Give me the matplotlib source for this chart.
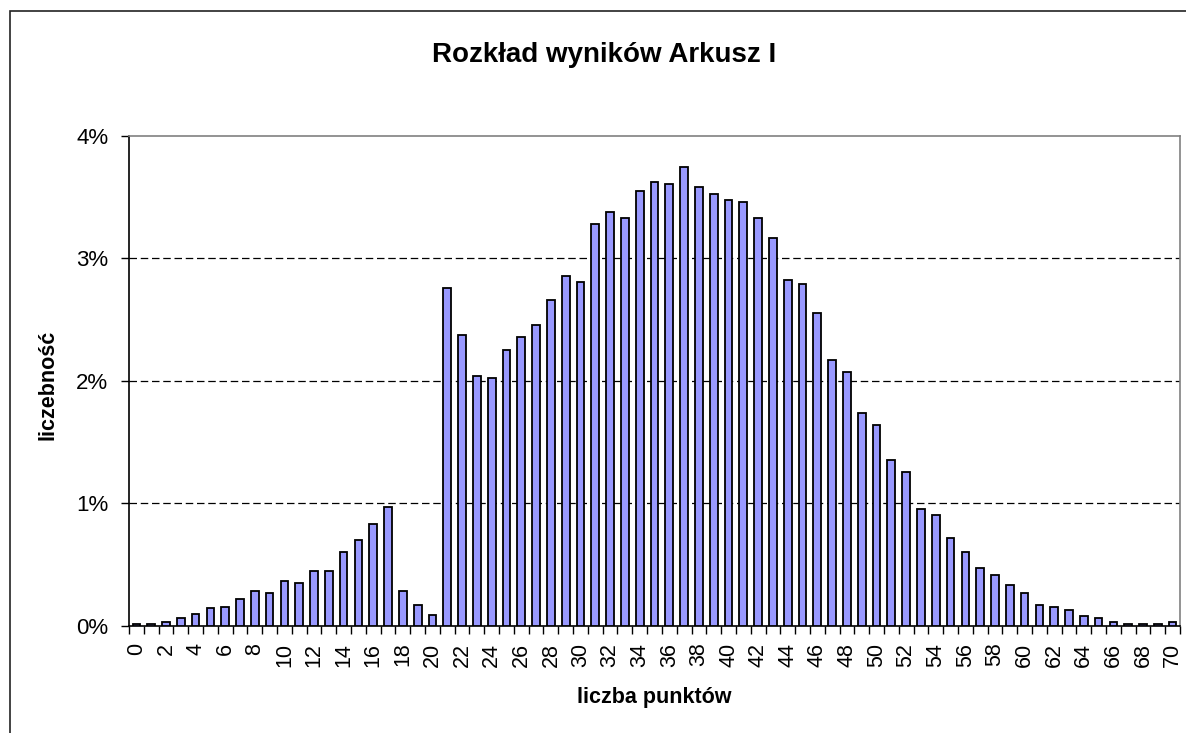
import numpy as np
import matplotlib.pyplot as plt
from matplotlib.patches import Rectangle

plt.rcParams['font.family'] = ['Liberation Sans', 'DejaVu Sans']

# dane: liczba punktów 0..70, odsetek zdających (%)
punkty = np.arange(0, 71)
procent = [
    0.016, 0.016, 0.033, 0.065, 0.095, 0.144, 0.158, 0.223, 0.285, 0.272,
    0.367, 0.351, 0.446, 0.446, 0.606, 0.701, 0.829, 0.973, 0.285, 0.172,
    0.093, 2.753, 2.372, 2.038, 2.022, 2.247, 2.356, 2.451, 2.658, 2.851,
    2.802, 3.277, 3.378, 3.326, 3.549, 3.617, 3.601, 3.742, 3.582, 3.522,
    3.470, 3.457, 3.326, 3.168, 2.818, 2.788, 2.549, 2.168, 2.068, 1.736,
    1.641, 1.353, 1.258, 0.957, 0.908, 0.717, 0.606, 0.476, 0.416, 0.334,
    0.272, 0.174, 0.158, 0.128, 0.079, 0.063, 0.033, 0.016, 0.016, 0.016,
    0.033,
]
y_ticks = [0, 1, 2, 3, 4]
y_labels = ['0%', '1%', '2%', '3%', '4%']

W, H = 1186, 733
fig = plt.figure(figsize=(W / 100, H / 100), dpi=100)
ax = fig.add_axes([129 / W, 1 - 626 / H, (1180 - 129) / W, (626 - 135.5) / H])

ax.bar(punkty, procent, width=0.52, color='#9999FF', edgecolor='black', linewidth=1.3, zorder=3)

ax.set_xlim(-0.5, 70.5)
ax.set_ylim(0, 4)

# siatka
for v in y_ticks[1:4]:
    ax.axhline(v, color='black', lw=0.9, ls=(0, (6, 3)), zorder=1)

ax.set_yticks(y_ticks)
ax.set_yticklabels(y_labels, fontsize=16)
ax.tick_params(axis='y', length=6, width=1, direction='out', pad=9)

ax.set_xticks(punkty[::2])
ax.set_xticklabels([str(p) for p in punkty[::2]], rotation=90, fontsize=15.5)
ax.set_xticks(np.arange(-0.5, 71, 1), minor=True)
ax.tick_params(axis='x', which='major', length=0, pad=12)
ax.tick_params(axis='x', which='minor', length=6, width=1, direction='out')

for s in ['top', 'right']:
    ax.spines[s].set_color('#808080')
    ax.spines[s].set_linewidth(1.2)
for s in ['left', 'bottom']:
    ax.spines[s].set_color('black')
    ax.spines[s].set_linewidth(1.2)

fig.text(604 / W, 1 - 55 / H, 'Rozkład wyników Arkusz I', ha='center', va='center',
         fontsize=20, fontweight='bold')
fig.text(654 / W, 1 - 697 / H, 'liczba punktów', ha='center', va='center',
         fontsize=15.5, fontweight='bold')
fig.text(48 / W, 1 - 385 / H, 'liczebność', ha='center', va='center',
         rotation=90, fontsize=15.5, fontweight='bold')

# ramka wykresu
fig.patches.append(Rectangle((10 / W, -0.1), 1.2, 1 - 11 / H + 0.1,
                             transform=fig.transFigure, fill=False,
                             edgecolor='#222222', lw=1.2))

fig.savefig('out.png', dpi=100)
